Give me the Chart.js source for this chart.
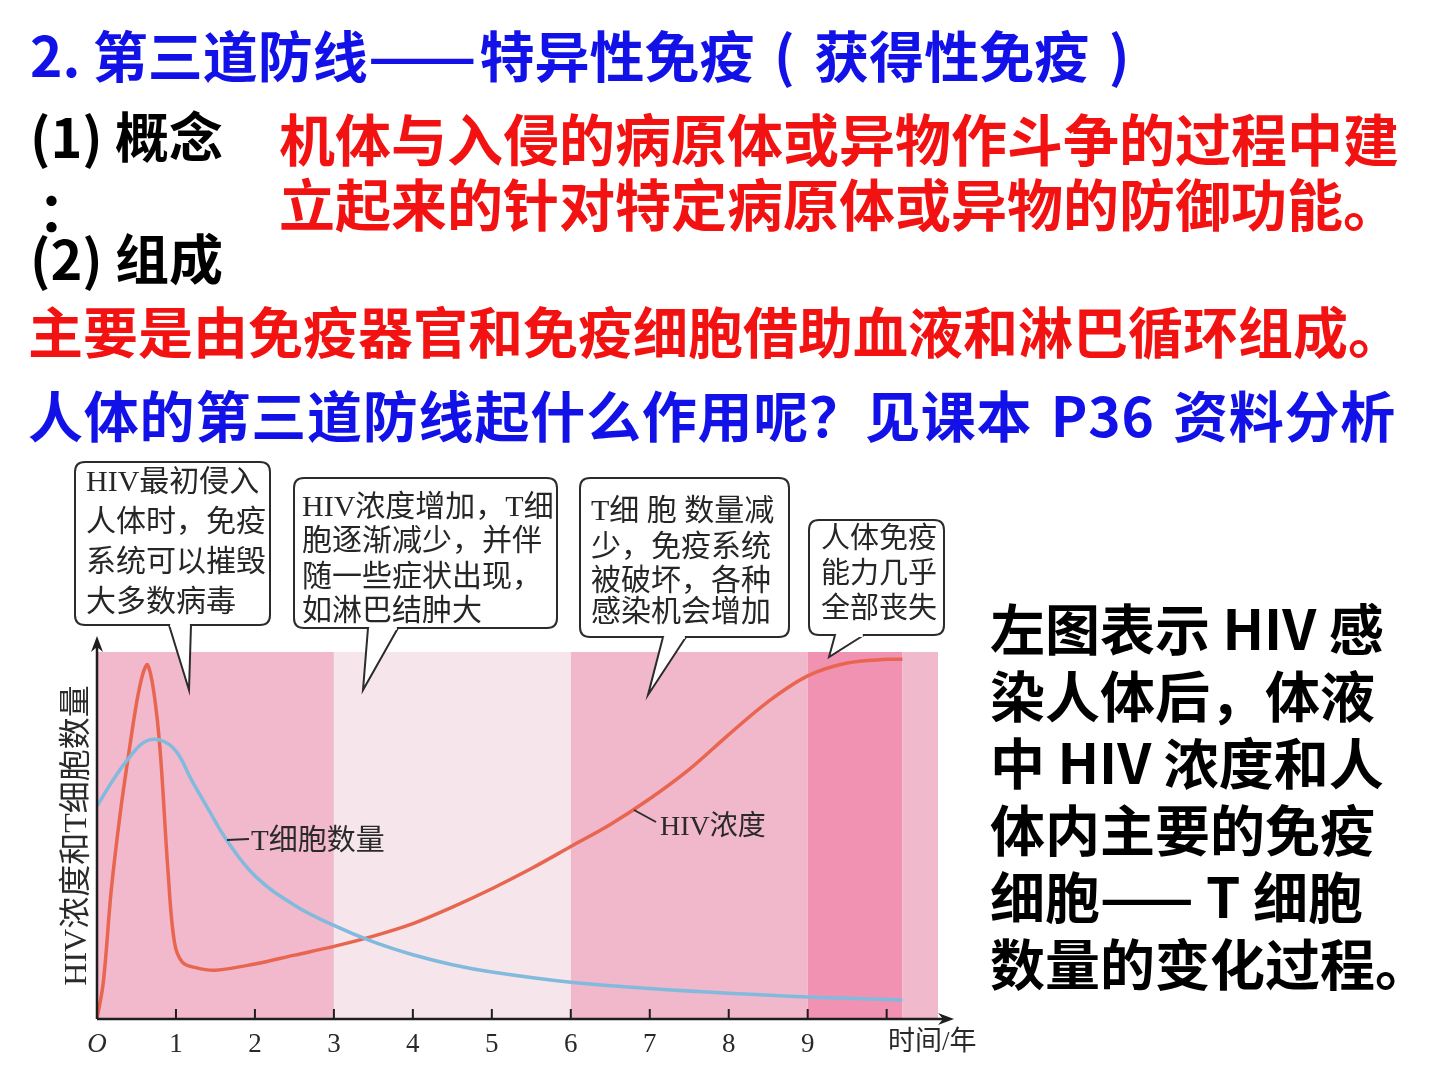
<!DOCTYPE html>
<html><head><meta charset="utf-8">
<script src="https://cdn.jsdelivr.net/npm/chart.js@4.4.1/dist/chart.umd.min.js"></script>
<style>
html,body{margin:0;padding:0;background:#fff;}
body{width:1440px;height:1080px;position:relative;overflow:hidden;font-family:"Noto Sans CJK SC",sans-serif;}
.t{position:absolute;white-space:nowrap;font-weight:700;line-height:1;}
#wrap{position:absolute;left:0;top:460px;width:1000px;height:620px;}
.dash{display:inline-block;transform:scaleX(1.16);transform-origin:left center;margin-right:18px;}
</style></head><body>
<div class="t" style="left:30px;top:26px;font-size:55px;color:#1212e8">2. 第三道防线<span class="dash">——</span><span style="word-spacing:7px">特异性免疫 ( 获得性免疫 )</span></div>
<div class="t" style="left:30px;top:108px;font-size:54px;color:#000">(1) 概念</div>
<div class="t" style="left:38px;top:182px;font-size:54px;color:#000">：</div>
<div class="t" style="left:30px;top:230px;font-size:54px;color:#000">(2) 组成</div>
<div class="t" style="left:279px;top:109px;font-size:56px;color:#f21212">机体与入侵的病原体或异物作斗争的过程中建</div>
<div class="t" style="left:279px;top:174px;font-size:56px;color:#f21212">立起来的针对特定病原体或异物的防御功能。</div>
<div class="t" style="left:28px;top:302px;font-size:55px;color:#f21212">主要是由免疫器官和免疫细胞借助血液和淋巴循环组成。</div>
<div class="t" style="left:28px;top:386px;font-size:55px;color:#1212e8;letter-spacing:0.8px;word-spacing:5px">人体的第三道防线起什么作用呢？见课本 P36 资料分析</div>
<div class="t" style="left:990px;top:593px;font-size:55px;line-height:67px;color:#000">左图表示 HIV 感<br>染人体后，体液<br>中 HIV 浓度和人<br>体内主要的免疫<br>细胞—— T 细胞<br>数量的变化过程。</div>
<div id="wrap"><canvas id="c" width="1000" height="620"></canvas></div>
<script>
// ---- data ----
const hivYears = [0,0.08,0.18,0.3,0.4,0.5,0.58,0.64,0.72,0.8,0.9,0.98,1.08,1.25,1.5,2,2.5,3,3.5,4,4.5,5,5.5,6,6.5,7,7.5,8,8.5,9,9.5,10,10.2];
const hivLevel = [0,10,35,57,72,86,94,96.5,89,73,40,21,15.5,14,13.3,15,17.4,19.8,22.6,26,30.5,35.5,41,47,53,60,68,77.5,86.5,93.5,97,98,98];
const tYears = [0,0.2,0.4,0.6,0.8,1.0,1.2,1.4,1.65,2,2.5,3,3.5,4,4.5,5,6,7,8,9,10.2];
const tCells = [58,65,71,75.5,76,73,65,57.5,48.5,39,31,25.5,21,17.5,14.8,12.8,10,8.3,7,6,5.2];
const xTickValues = [0,1,2,3,4,5,6,7,8,9,10];
const xTickLabels = ['O','1','2','3','4','5','6','7','8','9',''];
const bandStart = [0,3,6,9,10.2];
const bandEnd = [3,6,9,10.2,10.65];
const seriesNames = ['HIV浓度','T细胞数量'];
const yAxisTitle = 'HIV浓度和T细胞数量';
const xAxisTitle = '时间/年';
const callouts = [
  ['HIV最初侵入','人体时，免疫','系统可以摧毁','大多数病毒'],
  ['HIV浓度增加，T细','胞逐渐减少，并伴','随一些症状出现，','如淋巴结肿大'],
  ['T细 胞 数量减','少，免疫系统','被破坏，各种','感染机会增加'],
  ['人体免疫','能力几乎','全部丧失']
];

// ---- styles / layout ----
const bandColors = ['#f1b9cb','#f6e6eb','#f1b7ca','#f192b2','#f0bacc'];
const calloutLayout = [
  {box:[75,2,270,165], tail:[169,191,189,230], tx:86, ty:[23,63,103,143], fs:30},
  {box:[294,18,557,168], tail:[368,398,363,230], tx:302, ty:[48,82,118,152], fs:30},
  {box:[580,18,789,177], tail:[663,686,648,235], tx:591, ty:[52,88,122,153], fs:30},
  {box:[809,60,944,175], tail:[835,864,829,197], tx:821, ty:[80,115,150], fs:29}
];
const serifCJK = '"Liberation Serif","Noto Sans CJK SC",serif';

const bandsPlugin = {
  id:'bands',
  beforeDatasetsDraw(chart){
    const {ctx, chartArea:a, scales:{x}} = chart;
    ctx.save();
    bandStart.forEach((s,i)=>{
      const x0 = x.getPixelForValue(s), x1 = x.getPixelForValue(bandEnd[i]);
      ctx.fillStyle = bandColors[i];
      ctx.fillRect(x0, a.top, x1-x0, a.bottom-a.top);
    });
    ctx.restore();
  }
};

function roundRect(ctx,x0,y0,x1,y1,r){
  ctx.beginPath();
  ctx.moveTo(x0+r,y0); ctx.lineTo(x1-r,y0); ctx.quadraticCurveTo(x1,y0,x1,y0+r);
  ctx.lineTo(x1,y1-r); ctx.quadraticCurveTo(x1,y1,x1-r,y1);
  ctx.lineTo(x0+r,y1); ctx.quadraticCurveTo(x0,y1,x0,y1-r);
  ctx.lineTo(x0,y0+r); ctx.quadraticCurveTo(x0,y0,x0+r,y0); ctx.closePath();
}

const decorPlugin = {
  id:'decor',
  afterDatasetsDraw(chart){
    const {ctx, chartArea:a, scales:{x,y}} = chart;
    const x0 = x.getPixelForValue(0), y0 = y.getPixelForValue(0);
    ctx.save();
    ctx.strokeStyle = '#1e1e1e'; ctx.fillStyle = '#1e1e1e'; ctx.lineWidth = 2.5;
    ctx.beginPath(); ctx.moveTo(x0, y0); ctx.lineTo(a.right+8, y0); ctx.stroke();
    ctx.beginPath(); ctx.moveTo(a.right+16, y0); ctx.lineTo(a.right, y0-6); ctx.lineTo(a.right+5, y0); ctx.lineTo(a.right, y0+6); ctx.closePath(); ctx.fill();
    ctx.beginPath(); ctx.moveTo(x0, y0); ctx.lineTo(x0, a.top-8); ctx.stroke();
    ctx.beginPath(); ctx.moveTo(x0, a.top-16); ctx.lineTo(x0-6, a.top); ctx.lineTo(x0, a.top-5); ctx.lineTo(x0+6, a.top); ctx.closePath(); ctx.fill();
    ctx.lineWidth = 2;
    xTickValues.forEach(v=>{ if(v===0) return; const px=x.getPixelForValue(v); ctx.beginPath(); ctx.moveTo(px,y0); ctx.lineTo(px,y0-10); ctx.stroke(); });
    // axis title
    ctx.fillStyle = '#2a2a2a'; ctx.font = '27px '+serifCJK; ctx.textBaseline='middle'; ctx.textAlign='left';
    ctx.fillText(xAxisTitle, 888, 583);
    // series labels
    ctx.strokeStyle='#2a2a2a'; ctx.lineWidth=1.8;
    ctx.beginPath(); ctx.moveTo(227,380); ctx.lineTo(249,379); ctx.stroke();
    ctx.font='29px '+serifCJK; ctx.fillText(seriesNames[1], 251, 382);
    ctx.beginPath(); ctx.moveTo(634,350); ctx.lineTo(656,362); ctx.stroke();
    ctx.font='28px '+serifCJK; ctx.fillText(seriesNames[0], 660, 368);
    // callouts
    callouts.forEach((lines,i)=>{
      const L = calloutLayout[i]; const [bx0,by0,bx1,by1]=L.box; const [t0,t1,tx,ty]=L.tail;
      ctx.fillStyle='#fff'; ctx.strokeStyle='#2b2b2b'; ctx.lineWidth=2;
      roundRect(ctx,bx0,by0,bx1,by1,10); ctx.fill(); ctx.stroke();
      ctx.beginPath(); ctx.moveTo(t0,by1); ctx.lineTo(tx,ty); ctx.lineTo(t1,by1); ctx.fill(); ctx.stroke();
      ctx.fillRect(t0+1.2, by1-2, t1-t0-2.4, 4);
      ctx.fillStyle='#262626'; ctx.font=L.fs+'px '+serifCJK; ctx.textBaseline='middle'; ctx.textAlign='left';
      lines.forEach((s,j)=>ctx.fillText(s, L.tx, L.ty[j]));
    });
    ctx.restore();
  }
};

new Chart(document.getElementById('c'), {
  type:'line',
  data:{
    datasets:[
      {label:seriesNames[1], data:tYears.map((t,i)=>({x:t,y:tCells[i]})), borderColor:'#82bade', borderWidth:3.5, pointRadius:0, tension:0.4, fill:false},
      {label:seriesNames[0], data:hivYears.map((t,i)=>({x:t,y:hivLevel[i]})), borderColor:'#e8664f', borderWidth:3.5, pointRadius:0, tension:0.35, fill:false}
    ]
  },
  options:{
    responsive:false, animation:false, devicePixelRatio:1,
    layout:{padding:{left:0, top:192, right:62, bottom:0}},
    plugins:{legend:{display:false}, tooltip:{enabled:false}},
    scales:{
      x:{type:'linear', min:0, max:10.65,
         afterBuildTicks:s=>{ s.ticks = xTickValues.map(v=>({value:v})); },
         afterFit:s=>{ s.height = 61; },
         grid:{display:false, drawTicks:false}, border:{display:false},
         ticks:{autoSkip:false, maxRotation:0, padding:10, color:'#2a2a2a',
                font:c=>({family:'"Liberation Serif",serif', size:27, style: c.index===0?'italic':'normal'}),
                callback:(v,i)=>xTickLabels[i]}},
      y:{min:0, max:100,
         afterFit:s=>{ s.width = 97; },
         grid:{display:false}, border:{display:false}, ticks:{display:false},
         title:{display:true, text:yAxisTitle, color:'#2a2a2a', padding:{top:58,bottom:0},
                font:{family:serifCJK, size:32}}}
    }
  },
  plugins:[bandsPlugin, decorPlugin]
});
</script>
</body></html>
